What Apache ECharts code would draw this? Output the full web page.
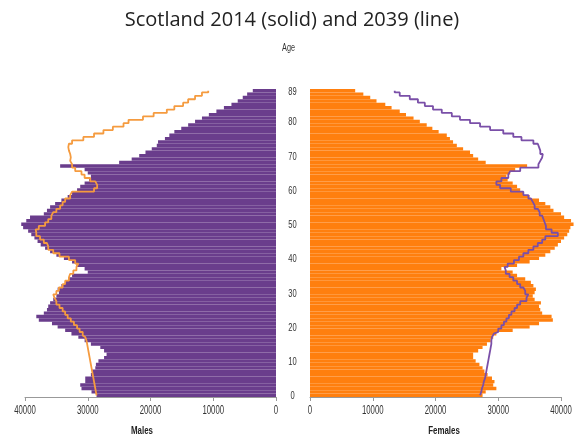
<!DOCTYPE html>
<html>
<head>
<meta charset="utf-8">
<script src="https://cdn.jsdelivr.net/npm/echarts@6/dist/echarts.min.js"></script>
<style>
html,body{margin:0;padding:0;background:#fff;}
#chart{width:584px;height:439px;}
</style>
</head>
<body>
<div id="chart"></div>
<script>
var ages = ["0","1","2","3","4","5","6","7","8","9","10","11","12","13","14","15","16","17","18","19",
"20","21","22","23","24","25","26","27","28","29","30","31","32","33","34","35","36","37","38","39",
"40","41","42","43","44","45","46","47","48","49","50","51","52","53","54","55","56","57","58","59",
"60","61","62","63","64","65","66","67","68","69","70","71","72","73","74","75","76","77","78","79",
"80","81","82","83","84","85","86","87","88","89"];
var ageTickLabels = ["0","10","20","30","40","50","60","70","80","89"];
var xTicks = [0, 10000, 20000, 30000, 40000];

var males2014 = [28600,29400,31000,31200,30400,30400,29500,29300,28800,28700,
28300,27400,27000,27400,28000,29500,30500,31500,32600,33600,
34800,35700,37800,38200,37000,36500,36300,36000,35500,35000,
34600,34800,34200,33600,33000,32500,30000,30500,31800,32500,
33800,35000,36000,36800,37500,38000,38500,39000,39500,40300,
40600,39800,39200,37000,36500,36000,35200,34200,33200,32500,
31700,31200,30500,29800,29500,30000,30500,34400,25000,23000,
21800,20800,19800,19000,18800,17700,17000,16200,15100,14000,
12900,11800,10700,9500,8300,7100,6100,5300,4600,3700];

var males2039 = [28600,28700,28800,28900,29000,29100,29200,29300,29400,29500,
29600,29700,29800,29900,30000,30100,30200,30400,30800,31300,
31700,32200,32700,33200,33600,34000,34500,35000,35300,35500,
35000,34600,34000,33600,33000,32800,32300,31800,31500,32000,
33000,34500,35500,36300,36500,37000,37600,38200,38300,37800,
36800,36300,35800,35500,35000,34400,34000,33600,32800,32500,
29000,28500,28800,29600,30500,31000,32000,32500,32800,32700,
32800,33000,33100,33000,32500,30700,29000,27500,26000,24300,
23500,21200,19500,17400,16200,14800,14000,12900,11800,10800];

var females2014 = [27500,28000,29700,29200,29400,29000,28300,27800,27500,27000,
26400,26000,26000,26800,27500,28200,28800,29200,29700,32300,
35000,36500,38700,38500,37000,36700,36500,36800,35800,35500,
35800,36000,35600,35200,34300,33000,32300,30500,33000,35000,
36500,37500,38300,39000,39500,40000,40500,41000,41300,41500,
42000,41600,40500,40000,38800,38300,37500,36500,35000,34000,
33500,33000,32300,31500,31300,31900,32700,34600,28000,26800,
26000,25500,24400,23400,22800,22300,21800,20500,19500,18600,
17500,16500,15300,14300,13000,12000,10600,9600,8500,7200];

var females2039 = [27100,27300,27400,27600,27700,27900,28000,28100,28200,28300,
28400,28500,28600,28700,28800,28900,28900,29000,29300,30000,
30500,30900,31300,31700,32100,32600,33000,33500,34500,34800,
34300,34000,33500,33000,32400,31800,31200,31000,31500,32500,
33300,34000,34800,35600,36300,37000,37500,39500,38500,37600,
37400,37200,37000,36600,36300,35800,35500,35200,34800,34000,
32000,30300,29700,30500,31600,31900,33500,36400,36700,37000,
37100,36700,36500,36300,35600,33700,32400,30800,28700,27100,
25500,23900,22600,21000,19600,18300,17200,15900,14300,13500];

var SANS = "'Liberation Sans', Arial, sans-serif";
var PURPLE = '#6a3d8c';
var ORANGE = '#ff7f0e';

var chart = echarts.init(document.getElementById('chart'), null, {renderer:'canvas'});

function xAxisCfg(gridIndex, inverse) {
  return {
    type: 'value', gridIndex: gridIndex, inverse: inverse,
    min: xTicks[0], max: xTicks[xTicks.length-1], interval: 10000,
    axisLine: {show: true, lineStyle: {color: '#999', width: 1}},
    axisTick: {show: true, length: 4, lineStyle: {color: '#999'}},
    axisLabel: {show: false},
    splitLine: {show: false}
  };
}

chart.setOption({
  animation: false,
  backgroundColor: '#fff',
  title: [
    {text: 'Scotland 2014 (solid) and 2039 (line)', left: 'center', top: 5,
     textStyle: {fontFamily: "'Open Sans', sans-serif", fontSize: 20, fontWeight: 'normal', color: '#222'}}
  ],
  grid: [
    {left: 25, width: 251, top: 89, height: 308},
    {left: 310, width: 251, top: 89, height: 308}
  ],
  xAxis: [ xAxisCfg(0, true), xAxisCfg(1, false) ],
  yAxis: [
    {type: 'category', gridIndex: 0, data: ages, position: 'right',
     axisLine: {show: false}, axisTick: {show: false}, axisLabel: {show: false}},
    {type: 'category', gridIndex: 1, data: ages, position: 'left',
     axisLine: {show: false}, axisTick: {show: false}, axisLabel: {show: false}}
  ],
  series: [
    {type: 'bar', name: 'Males 2014', xAxisIndex: 0, yAxisIndex: 0, data: males2014,
     barCategoryGap: '0%', clip: false, itemStyle: {color: PURPLE}},
    {type: 'bar', name: 'Females 2014', xAxisIndex: 1, yAxisIndex: 1, data: females2014,
     barCategoryGap: '0%', clip: false, itemStyle: {color: ORANGE}},
    {type: 'line', name: 'Males 2039', xAxisIndex: 0, yAxisIndex: 0, data: males2039,
     step: 'middle', symbol: 'none', clip: false, z: 5,
     lineStyle: {color: '#f59b3f', width: 1.8}},
    {type: 'line', name: 'Females 2039', xAxisIndex: 1, yAxisIndex: 1, data: females2039,
     step: 'middle', symbol: 'none', clip: false, z: 5,
     lineStyle: {color: '#7a4fa8', width: 1.8}}
  ]
});

// Condensed-looking text (the reference uses a tall narrow face): draw with horizontal squeeze.
function narrowText(text, x, y, size, sx, bold, color) {
  return {
    type: 'text', x: x, y: y, scaleX: sx, scaleY: 1, silent: true, z: 10,
    style: {text: text, x: 0, y: 0, fill: color || '#333',
      font: (bold ? 'bold ' : '') + size + 'px ' + SANS,
      textAlign: 'center', textVerticalAlign: 'middle', align: 'center', verticalAlign: 'middle'}
  };
}

var g = [];
var bottom = 89 + 308;
xTicks.forEach(function (v) {
  var pl = chart.convertToPixel({xAxisIndex: 0}, v);
  var pr = chart.convertToPixel({xAxisIndex: 1}, v);
  g.push(narrowText(String(v), pl, bottom + 13, 13, 0.6, false, '#333'));
  g.push(narrowText(String(v), pr, bottom + 13, 13, 0.6, false, '#333'));
});
ageTickLabels.forEach(function (a) {
  var py = chart.convertToPixel({yAxisIndex: 1}, a);
  g.push(narrowText(a, 292.5, py + 1, 10.5, 0.72, false, '#333'));
});
g.push(narrowText('Males', 142, bottom + 34, 11, 0.72, true, '#222'));
g.push(narrowText('Females', 444, bottom + 34, 11, 0.72, true, '#222'));
g.push(narrowText('Age', 288.5, 48, 11, 0.66, false, '#333'));
chart.setOption({graphic: {elements: g}});
</script>
</body>
</html>
